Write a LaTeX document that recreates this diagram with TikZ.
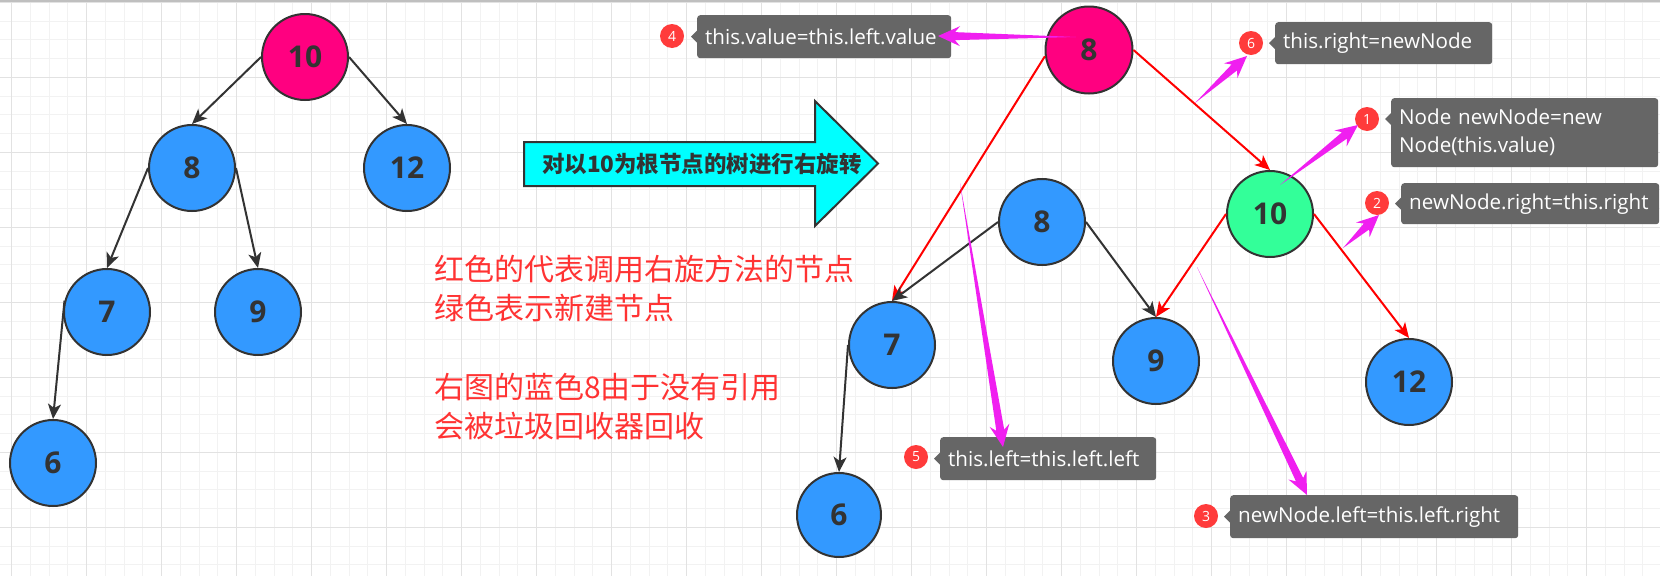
\documentclass[tikz,border=0pt]{standalone}
\usepackage{fontspec}
\setmainfont{Open Sans}
\newfontfamily\hanzi{Noto Sans CJK SC}
\usetikzlibrary{arrows.meta,calc,shapes.geometric,positioning}

\definecolor{ink}{HTML}{333333}
\definecolor{rootpink}{HTML}{FF0080}
\definecolor{leafblue}{HTML}{3399FF}
\definecolor{newgreen}{HTML}{33FF99}
\definecolor{turncyan}{HTML}{00FFFF}
\definecolor{notegray}{HTML}{666666}
\definecolor{badgered}{HTML}{FF3B3B}
\definecolor{memored}{HTML}{FF3333}
\definecolor{pokecol}{HTML}{F01FF0}
\definecolor{minorgrid}{HTML}{F2F2F2}
\definecolor{majorgrid}{HTML}{E2E2E2}

\newcommand\treefont{\bfseries\fontsize{30pt}{30pt}\selectfont}
\newcommand\notefont{\fontsize{20.6pt}{28pt}\selectfont}
\newcommand\badgefont{\fontsize{14pt}{14pt}\selectfont}

% magenta wedge arrow, thin at #1, head at #2
\newcommand\poke[2]{%
  \coordinate (pk) at ($(#2)!22pt!(#1)$);
  \coordinate (pn) at ($(#2)!17pt!(#1)$);
  \fill[pokecol] (#1) -- ($(pn)!4pt!90:(#2)$) -- ($(pk)!10pt!90:(#2)$) -- (#2)
    -- ($(pk)!10pt!-90:(#2)$) -- ($(pn)!4pt!-90:(#2)$) -- cycle;
}
% small pointer on the left of a note
\newcommand\pointer[1]{%
  \fill[notegray] ($(#1)+(0,-6)$) -- ($(#1)+(-6,0)$) -- ($(#1)+(0,6)$) -- cycle;
}

\tikzset{
  tnode/.style={circle,draw=ink,line width=2pt,minimum size=86pt,inner sep=0pt,
    text=ink,font=\treefont},
  pnode/.style={tnode,fill=rootpink},
  bnode/.style={tnode,fill=leafblue},
  gnode/.style={tnode,fill=newgreen},
  link/.style={draw=ink,line width=2pt,-{Stealth[length=15pt,width=13pt,inset=4pt]}},
  redlink/.style={link,draw=red},
  note/.style={rectangle,fill=notegray,rounded corners=3pt,text=white,font=\notefont,
    align=left,inner xsep=8pt,inner ysep=0pt,anchor=north west,text width=#1},
  badge/.style={circle,fill=badgered,minimum size=24pt,inner sep=0pt,text=white,
    font=\badgefont},
}

\begin{document}
\begin{tikzpicture}[x=1pt,y=-1pt]
\useasboundingbox (0,0) rectangle (1660,576);
\fill[white] (0,0) rectangle (1660,576);

% grid
\foreach \i in {0,...,87}
  \draw[minorgrid,line width=1pt] ({11.7+18.75*\i},0) -- ({11.7+18.75*\i},576);
\foreach \j in {0,...,30}
  \draw[minorgrid,line width=1pt] (0,{2.3+18.75*\j}) -- (1660,{2.3+18.75*\j});
\foreach \i in {0,...,21}
  \draw[majorgrid,line width=1.2pt] ({11.7+75*\i},0) -- ({11.7+75*\i},576);
\foreach \j in {0,...,7}
  \draw[majorgrid,line width=1.2pt] (0,{2.3+75*\j}) -- (1660,{2.3+75*\j});
\draw[gray!50,line width=1.5pt] (0,0.8) -- (1660,0.8);

% left tree
\node[pnode] (l10) at (305,57) {10};
\node[bnode] (l8) at (192,168) {8};
\node[bnode] (l12) at (407,168) {12};
\node[bnode] (l7) at (107,312) {7};
\node[bnode] (l9) at (258,312) {9};
\node[bnode] (l6) at (53,463) {6};
\draw[link] (l10.west) -- (l8.north);
\draw[link] (l10.east) -- (l12.north);
\draw[link] (l8.west) -- (l7.north);
\draw[link] (l8.east) -- (l9.north);
\draw[link] (l7.165) -- (l6.north);

% rotation arrow
\draw[fill=turncyan,draw=ink,line width=2pt] (524,142) -- (815,142) -- (815,101)
  -- (878,163.5) -- (815,226) -- (815,186) -- (524,186) -- cycle;
\node[text=ink,font=\hanzi\bfseries\fontsize{22.5pt}{22.5pt}\selectfont] (turn)
  at (702,164) {对以10为根节点的树进行右旋转};

% remarks
\node[anchor=north west,inner sep=0pt,align=left,text=memored,
  font=\hanzi\fontsize{30pt}{39pt}\selectfont] (memo) at (434,255)
  {红色的代表调用右旋方法的节点\\绿色表示新建节点\\[40pt]右图的蓝色8由于没有引用\\会被垃圾回收器回收};

% right tree
\node[pnode,minimum size=87pt] (r8) at (1089,50) {8};
\node[gnode] (r10) at (1270,214) {10};
\node[bnode] (m8) at (1042,222) {8};
\node[bnode] (r7) at (892,345) {7};
\node[bnode] (r9) at (1156,361) {9};
\node[bnode] (r12) at (1409,382) {12};
\node[bnode,minimum size=84pt] (r6) at (839,515) {6};
\draw[redlink] (r8.188) -- (r7.north);
\draw[redlink] (r8.east) -- (r10.north);
\draw[link] (m8.west) -- (r7.north);
\draw[link] (m8.east) -- (r9.north);
\draw[redlink] (r10.west) -- (r9.north);
\draw[redlink] (r10.east) -- (r12.north);
\draw[link] (r7.west) -- (r6.north);

% steps
\node[note=238pt,minimum height=43pt] (n4) at (697,15) {this.value=this.left.value};
\node[note=201pt,minimum height=42pt] (n6) at (1275,22) {this.right=newNode};
\node[note=251pt,minimum height=69pt] (n1) at (1391,98) {Node newNode=new\\Node(this.value)};
\node[note=242pt,minimum height=41pt] (n2) at (1401,183) {newNode.right=this.right};
\node[note=200pt,minimum height=43pt] (n5) at (940,437) {this.left=this.left.left};
\node[note=272pt,minimum height=43pt] (n3) at (1230,495) {newNode.left=this.left.right};
\pointer{n4.west}
\pointer{n6.west}
\pointer{$(n1.north west)+(0,21)$}
\pointer{n2.west}
\pointer{n5.west}
\pointer{n3.west}
\node[badge] (c4) at (672,36) {4};
\node[badge] (c6) at (1251,43) {6};
\node[badge] (c1) at (1367,119) {1};
\node[badge] (c2) at (1377,203) {2};
\node[badge] (c5) at (916,457) {5};
\node[badge] (c3) at (1206,516) {3};

% magenta pointers
\coordinate (s4) at (1076,37);  \coordinate (t4) at (938,36);
\coordinate (s6) at (1195,103); \coordinate (t6) at (1247,56);
\coordinate (s1) at (1280,185); \coordinate (t1) at (1358,125);
\coordinate (s2) at (1343,248); \coordinate (t2) at (1379,215);
\coordinate (s3) at (1197,267); \coordinate (t3) at (1307,495);
\coordinate (s5) at (960,183);  \coordinate (t5) at (1003,447);
\poke{s4}{t4}
\poke{s6}{t6}
\poke{s1}{t1}
\poke{s2}{t2}
\poke{s3}{t3}
\poke{s5}{t5}
\end{tikzpicture}
\end{document}
